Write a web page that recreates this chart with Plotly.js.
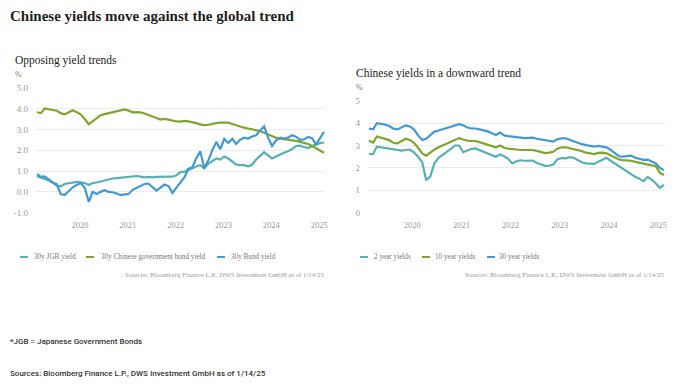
<!DOCTYPE html>
<html>
<head>
<meta charset="utf-8">
<script src="https://cdn.plot.ly/plotly-3.0.1.min.js"></script>
<style>
html,body{margin:0;padding:0;background:#fff;}
#chart{width:700px;height:386px;}
</style>
</head>
<body>
<div id="chart"></div>
<script>
// ---- shared dates (monthly readings, last point = 1/14/25) ----
const dates = [
"2019-01-15","2019-02-15","2019-03-15","2019-04-15","2019-05-15","2019-06-15","2019-07-15","2019-08-15","2019-09-15","2019-10-15","2019-11-15","2019-12-15",
"2020-01-15","2020-02-15","2020-03-15","2020-04-15","2020-05-15","2020-06-15","2020-07-15","2020-08-15","2020-09-15","2020-10-15","2020-11-15","2020-12-15",
"2021-01-15","2021-02-15","2021-03-15","2021-04-15","2021-05-15","2021-06-15","2021-07-15","2021-08-15","2021-09-15","2021-10-15","2021-11-15","2021-12-15",
"2022-01-15","2022-02-15","2022-03-15","2022-04-15","2022-05-15","2022-06-15","2022-07-15","2022-08-15","2022-09-15","2022-10-15","2022-11-15","2022-12-15",
"2023-01-15","2023-02-15","2023-03-15","2023-04-15","2023-05-15","2023-06-15","2023-07-15","2023-08-15","2023-09-15","2023-10-15","2023-11-15","2023-12-15",
"2024-01-15","2024-02-15","2024-03-15","2024-04-15","2024-05-15","2024-06-15","2024-07-15","2024-08-15","2024-09-15","2024-10-15","2024-11-15","2024-12-15",
"2025-01-14"];

// ---- left chart: Opposing yield trends ----
const leftNames = ["30y JGB yield", "30y Chinese government bond yield", "30y Bund yield"];
const jgb30 = [0.75,0.70,0.62,0.55,0.45,0.30,0.27,0.38,0.42,0.45,0.48,0.46,
0.42,0.33,0.42,0.45,0.50,0.56,0.60,0.64,0.66,0.68,0.70,0.72,
0.74,0.76,0.73,0.70,0.72,0.70,0.72,0.72,0.71,0.72,0.73,0.80,
0.95,0.97,1.05,1.15,1.22,1.28,1.12,1.35,1.50,1.60,1.55,1.70,
1.60,1.45,1.32,1.28,1.28,1.23,1.30,1.55,1.75,1.90,1.75,1.60,
1.70,1.80,1.88,1.95,2.05,2.20,2.22,2.15,2.10,2.20,2.28,2.34,2.37];
const cgb30 = [3.82,3.78,4.00,3.98,3.93,3.90,3.78,3.72,3.82,3.92,3.82,3.72,
3.50,3.25,3.38,3.55,3.68,3.73,3.78,3.82,3.88,3.93,3.96,3.90,
3.82,3.83,3.82,3.76,3.70,3.62,3.55,3.47,3.50,3.47,3.42,3.38,
3.37,3.41,3.38,3.35,3.30,3.24,3.20,3.22,3.27,3.30,3.32,3.33,
3.32,3.26,3.20,3.12,3.08,3.04,3.00,2.97,2.92,2.84,2.76,2.66,
2.60,2.55,2.53,2.50,2.48,2.45,2.40,2.35,2.30,2.20,2.10,1.98,1.88];
const bund30 = [0.85,0.72,0.74,0.60,0.45,0.37,-0.10,-0.15,0.02,0.22,0.33,0.42,
0.20,-0.48,0.00,-0.10,0.00,0.08,0.00,-0.02,-0.08,-0.16,-0.12,-0.10,
0.10,0.20,0.28,0.38,0.40,0.22,0.06,0.20,0.35,0.28,-0.05,0.20,
0.45,0.70,1.10,1.18,1.60,1.95,1.15,1.50,2.00,2.40,2.05,2.55,
2.35,2.55,2.30,2.50,2.60,2.56,2.66,2.72,2.95,3.15,2.60,2.20,
2.48,2.60,2.56,2.60,2.72,2.65,2.50,2.52,2.64,2.58,2.28,2.60,2.88];
const leftTickVals = [-1, 0, 1, 2, 3, 4, 5];
const leftTickText = ["-1.0", "0.0", "1.0", "2.0", "3.0", "4.0", "5.0"];

// ---- right chart: Chinese yields in a downward trend ----
const rightNames = ["2 year yields", "10 year yields", "30 year yields"];
const cn2 = [2.62,2.62,2.95,2.92,2.88,2.83,2.80,2.77,2.77,2.80,2.82,2.70,
2.50,2.25,1.45,1.62,2.20,2.45,2.60,2.72,2.85,3.00,3.00,2.70,
2.78,2.85,2.87,2.80,2.70,2.64,2.58,2.50,2.60,2.52,2.40,2.20,
2.30,2.34,2.32,2.34,2.33,2.22,2.15,2.09,2.10,2.15,2.38,2.44,
2.43,2.48,2.45,2.34,2.25,2.20,2.18,2.18,2.28,2.38,2.45,2.32,
2.20,2.06,1.95,1.85,1.72,1.60,1.52,1.40,1.60,1.48,1.30,1.10,1.24];
const cn10 = [3.21,3.13,3.40,3.34,3.30,3.24,3.12,3.10,3.20,3.30,3.25,3.12,
2.90,2.65,2.55,2.70,2.82,2.92,3.00,3.08,3.15,3.25,3.33,3.27,
3.22,3.21,3.20,3.15,3.10,3.02,2.98,2.92,3.00,2.90,2.86,2.83,
2.81,2.80,2.80,2.80,2.80,2.76,2.72,2.66,2.68,2.72,2.86,2.92,
2.92,2.88,2.86,2.80,2.75,2.68,2.65,2.62,2.67,2.68,2.65,2.55,
2.45,2.38,2.35,2.34,2.32,2.27,2.23,2.18,2.16,2.13,2.08,1.78,1.68];
const cn30 = [3.76,3.72,4.00,3.98,3.93,3.87,3.75,3.72,3.82,3.90,3.85,3.72,
3.45,3.25,3.30,3.45,3.62,3.67,3.72,3.76,3.84,3.90,3.95,3.90,
3.80,3.76,3.76,3.72,3.68,3.63,3.55,3.47,3.58,3.45,3.42,3.39,
3.37,3.36,3.33,3.34,3.35,3.30,3.27,3.21,3.18,3.17,3.28,3.32,
3.32,3.25,3.20,3.12,3.06,3.02,2.97,2.95,2.98,2.96,2.92,2.80,
2.65,2.52,2.50,2.52,2.55,2.45,2.40,2.36,2.37,2.30,2.20,2.00,1.90];
const rightTickVals = [0, 1, 2, 3, 4, 5];
const rightTickText = ["0", "1", "2", "3", "4", "5"];

const yearTicks = ["2020-01-01","2021-01-01","2022-01-01","2023-01-01","2024-01-01","2025-01-01"];
const yearText = ["2020","2021","2022","2023","2024","2025"];

const colors = ["#55b1b3", "#7ea62e", "#4299d3"];
const W = 700, H = 386;
const px = x => x / W;
const py = y => 1 - y / H;

const traces = [];
[jgb30, cgb30, bund30].forEach((s, i) => traces.push({
  x: dates, y: s, type: 'scatter', mode: 'lines', name: leftNames[i],
  line: {color: colors[i], width: 2.2}, xaxis: 'x', yaxis: 'y', showlegend: false, hoverinfo: 'skip'
}));
[cn2, cn10, cn30].forEach((s, i) => traces.push({
  x: dates, y: s, type: 'scatter', mode: 'lines', name: rightNames[i],
  line: {color: colors[i], width: 2.2}, xaxis: 'x2', yaxis: 'y2', showlegend: false, hoverinfo: 'skip'
}));

const xFont = {family: 'Liberation Serif', size: 8.5, color: '#9a9a9a'};
const yFont = {family: 'Liberation Serif', size: 9, color: '#9a9a9a'};
const xBase = {
  type: 'date', tickvals: yearTicks, ticktext: yearText, showgrid: false, zeroline: false,
  showline: false, ticks: '', tickfont: xFont, ticklabelstandoff: 6
};
const yBase = {
  showgrid: true, gridcolor: '#ececec', gridwidth: 1, zeroline: false, showline: false,
  ticks: '', tickfont: yFont, ticklabelstandoff: 7
};

const serif = 'Liberation Serif';
const ann = [];
function txt(text, x, y, size, color, anchor, family, weight) {
  ann.push({text: text, xref: 'paper', yref: 'paper', x: px(x), y: py(y), xanchor: anchor || 'left',
    yanchor: 'middle', showarrow: false, align: anchor || 'left',
    font: {family: family || serif, size: size, color: color, weight: weight || 400}});
}
txt("Chinese yields move against the global trend", 8, 16, 15, '#1e1e1e', 'left', 'Liberation Serif', 700);
txt("Opposing yield trends", 13, 60, 11.5, '#222');
txt("%", 13, 74, 8, '#777');
txt("Chinese yields in a downward trend", 354, 73, 11.5, '#222');
txt("%", 354, 87, 8, '#777');
const sourceText = "Sources: Bloomberg Finance L.P., DWS Investment GmbH as of 1/14/25";
txt(sourceText, 326, 274, 6.8, '#9a9a9a', 'right');
txt(sourceText, 666, 274, 6.8, '#9a9a9a', 'right');
txt("*JGB = Japanese Government Bonds", 8, 341, 8, '#333', 'left', 'Roboto', 500);
txt(sourceText, 8, 373, 8, '#333', 'left', 'Roboto', 500);

const shapes = [];
const leftLeg = [[20, 32], [86, 99], [217, 229]];
const rightLeg = [[360, 372], [422, 433], [487, 497]];
leftLeg.forEach((p, i) => {
  shapes.push({type: 'line', xref: 'paper', yref: 'paper', x0: px(p[0]), x1: px(p[0] + 8), y0: py(257), y1: py(257),
    line: {color: colors[i], width: 2}});
  txt(leftNames[i], p[1], 257, 7.2, '#777');
});
rightLeg.forEach((p, i) => {
  shapes.push({type: 'line', xref: 'paper', yref: 'paper', x0: px(p[0]), x1: px(p[0] + 8), y0: py(257), y1: py(257),
    line: {color: colors[i], width: 2}});
  txt(rightNames[i], p[1], 257, 7.2, '#777');
});

const layout = {
  width: W, height: H, margin: {l: 0, r: 0, t: 0, b: 0},
  paper_bgcolor: '#fff', plot_bgcolor: '#fff', showlegend: false,
  xaxis: Object.assign({}, xBase, {domain: [px(36), px(325)], range: ['2019-01-08', '2025-01-22'], anchor: 'y', ticklabelshift: -3}),
  yaxis: Object.assign({}, yBase, {domain: [py(212.7), py(87.7)], range: [-1, 5], tickvals: leftTickVals, ticktext: leftTickText, anchor: 'x'}),
  xaxis2: Object.assign({}, xBase, {domain: [px(368), px(665)], range: ['2019-01-08', '2025-01-22'], anchor: 'y2', ticklabelshift: -4}),
  yaxis2: Object.assign({}, yBase, {domain: [py(212.7), py(100.7)], range: [0, 5], tickvals: rightTickVals, ticktext: rightTickText, anchor: 'x2'}),
  annotations: ann, shapes: shapes
};
Plotly.newPlot('chart', traces, layout, {staticPlot: true, displayModeBar: false});
</script>
</body>
</html>
